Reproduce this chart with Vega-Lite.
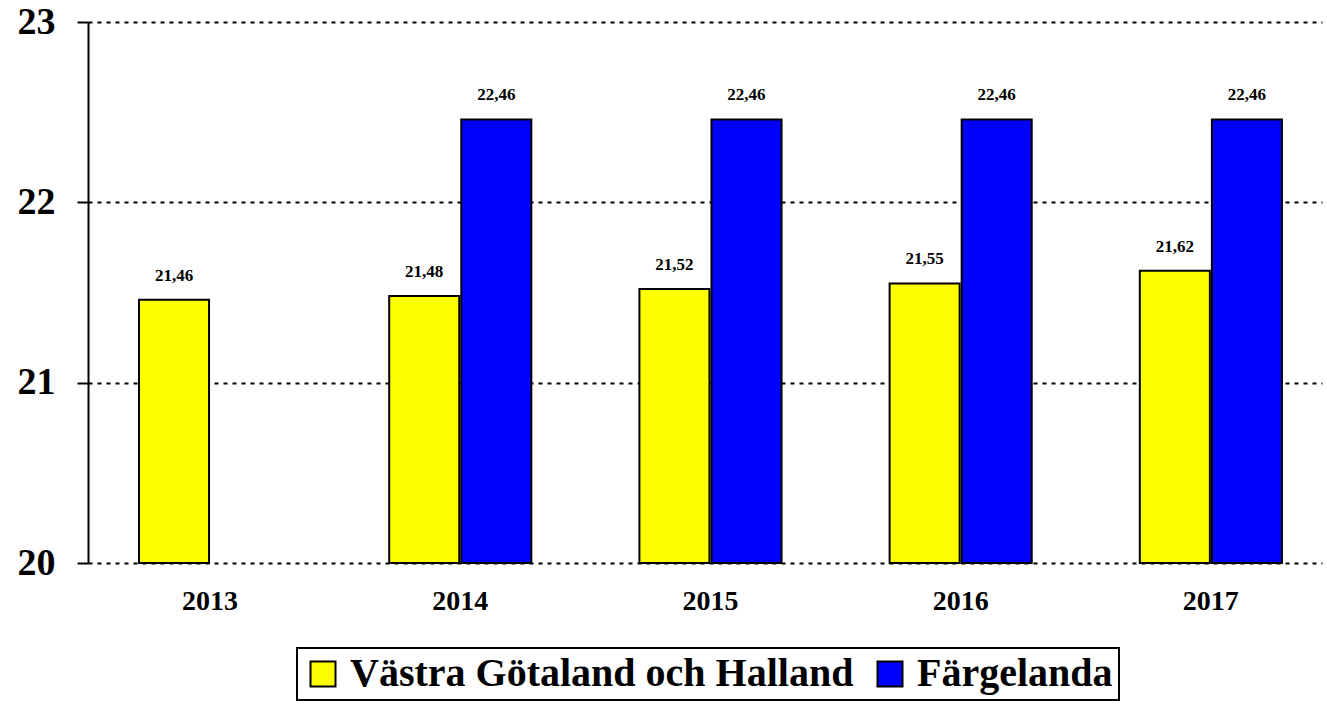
{
  "$schema": "https://vega.github.io/schema/vega-lite/v6.json",
  "width": 1234,
  "height": 541,
  "autosize": "none",
  "padding": {"left": 88, "top": 22, "right": 5, "bottom": 141},
  "background": "white",
  "config": {
    "font": "Liberation Serif",
    "view": {"stroke": null},
    "legend": {"strokeWidth": 2}
  },
  "data": {
    "values": [
      {"year": "2013", "series": "Västra Götaland och Halland", "value": 21.46, "label": "21,46"},
      {"year": "2014", "series": "Västra Götaland och Halland", "value": 21.48, "label": "21,48"},
      {"year": "2014", "series": "Färgelanda", "value": 22.46, "label": "22,46"},
      {"year": "2015", "series": "Västra Götaland och Halland", "value": 21.52, "label": "21,52"},
      {"year": "2015", "series": "Färgelanda", "value": 22.46, "label": "22,46"},
      {"year": "2016", "series": "Västra Götaland och Halland", "value": 21.55, "label": "21,55"},
      {"year": "2016", "series": "Färgelanda", "value": 22.46, "label": "22,46"},
      {"year": "2017", "series": "Västra Götaland och Halland", "value": 21.62, "label": "21,62"},
      {"year": "2017", "series": "Färgelanda", "value": 22.46, "label": "22,46"}
    ]
  },
  "encoding": {
    "x": {
      "field": "year",
      "type": "nominal",
      "scale": {"paddingInner": 0.432, "paddingOuter": 0.182, "align": 0.56},
      "axis": {
        "title": null,
        "labelAngle": 0,
        "domain": false,
        "ticks": false,
        "labelFont": "Liberation Serif",
        "labelFontWeight": "bold",
        "labelFontSize": 28,
        "labelColor": "black",
        "labelPadding": 24
      }
    },
    "xOffset": {
      "field": "series",
      "type": "nominal",
      "scale": {"domain": ["Västra Götaland och Halland", "Färgelanda"], "paddingInner": 0.028, "paddingOuter": 0}
    },
    "y": {
      "field": "value",
      "type": "quantitative",
      "scale": {"domain": [20, 23], "zero": false, "nice": false},
      "axis": {
        "title": null,
        "values": [20, 21, 22, 23],
        "format": "d",
        "domain": true,
        "domainColor": "black",
        "domainWidth": 2,
        "ticks": true,
        "tickColor": "black",
        "tickWidth": 2,
        "tickSize": 11,
        "grid": true,
        "gridColor": "black",
        "gridWidth": 2,
        "gridDash": [4, 5],
        "labelFont": "Liberation Serif",
        "labelFontWeight": "bold",
        "labelFontSize": 38,
        "labelColor": "black",
        "labelPadding": 22
      }
    }
  },
  "layer": [
    {
      "mark": {"type": "bar", "stroke": "black", "strokeWidth": 2},
      "encoding": {
        "y2": {"datum": 20},
        "color": {
          "field": "series",
          "type": "nominal",
          "scale": {"domain": ["Västra Götaland och Halland", "Färgelanda"], "range": ["#FFFF00", "#0000FF"]},
          "legend": {
            "title": null,
            "orient": "none",
            "legendX": 209,
            "legendY": 626,
            "direction": "horizontal",
            "strokeColor": "black",
            "padding": 6,
            "symbolType": "square",
            "symbolSize": 625,
            "symbolStrokeColor": "black",
            "symbolStrokeWidth": 2,
            "symbolOpacity": 1,
            "labelFont": "Liberation Serif",
            "labelFontWeight": "bold",
            "labelFontSize": 40,
            "labelColor": "black",
            "labelLimit": 2000,
            "labelOffset": 7,
            "columnPadding": 16
          }
        }
      }
    },
    {
      "mark": {"type": "text", "baseline": "bottom", "dy": -15, "font": "Liberation Serif", "fontWeight": "bold", "fontSize": 17, "color": "black"},
      "encoding": {
        "text": {"field": "label", "type": "nominal"}
      }
    }
  ]
}
